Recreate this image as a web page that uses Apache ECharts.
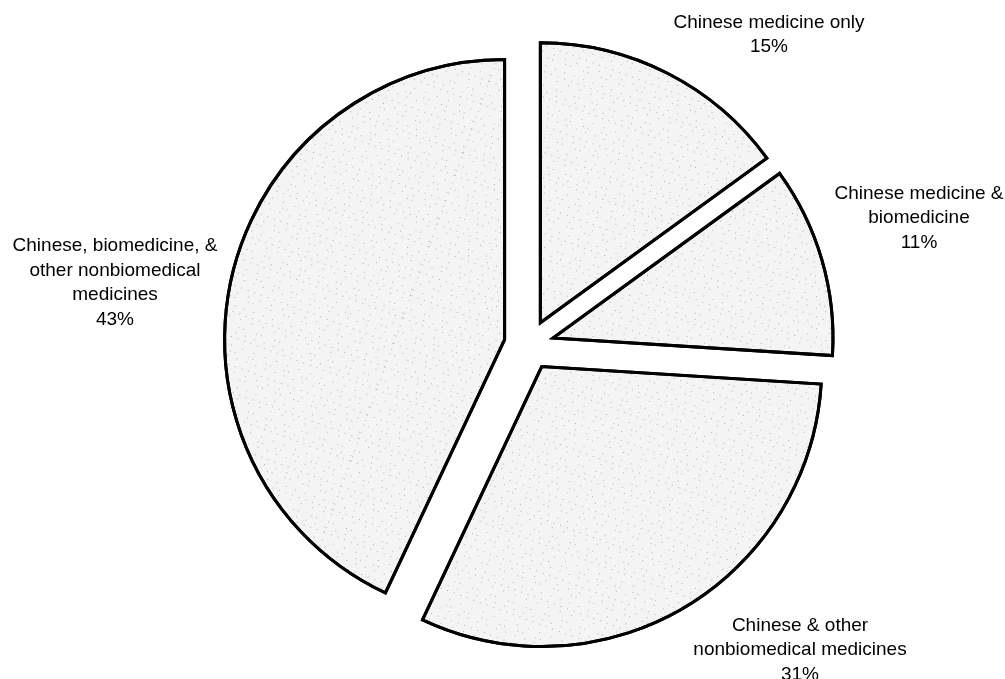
<!DOCTYPE html>
<html>
<head>
<meta charset="utf-8">
<title>Medicine use</title>
<script src="https://cdn.jsdelivr.net/npm/echarts@6/dist/echarts.min.js"></script>
<style>
  html, body { margin: 0; padding: 0; background: #fff; }
  #chart { width: 1005px; height: 679px; }
</style>
</head>
<body>
<div id="chart"></div>
<script>
// data
const categories = [
    'Chinese medicine only',
    'Chinese medicine &\nbiomedicine',
    'Chinese & other\nnonbiomedical medicines',
    'Chinese, biomedicine, &\nother nonbiomedical\nmedicines'
];
const shares = [15, 11, 31, 43];

// label block centres (pixels)
const labelPos = [[769, 35], [919, 218], [800, 650], [115, 283]];

const sliceStyle = {
    color: '#f4f4f4',
    borderColor: '#000',
    borderWidth: 3,
    borderJoin: 'miter',
    decal: {
        symbol: 'rect',
        symbolSize: 1,
        color: 'rgba(90, 90, 90, 0.45)',
        dashArrayX: [[1, 6], [1, 11], [1, 4, 1, 13], [1, 9]],
        dashArrayY: [1, 4, 1, 7, 1, 5],
        rotation: 0.35
    }
};

const chart = echarts.init(document.getElementById('chart'));

// labels as plain text, built from the data arrays
const labels = categories.map((name, i) => ({
    type: 'text',
    x: labelPos[i][0],
    y: labelPos[i][1],
    silent: true,
    style: {
        text: name + '\n' + shares[i] + '%',
        font: '19px "Liberation Sans", Arial, sans-serif',
        lineHeight: 24.5,
        fill: '#000',
        align: 'center',
        verticalAlign: 'middle'
    }
}));

chart.setOption({
    animation: false,
    backgroundColor: '#fff',
    graphic: labels,
    series: [{
        type: 'pie',
        center: [529, 345],
        radius: 280,
        startAngle: 90,
        clockwise: true,
        selectedMode: 'multiple',
        selectedOffset: 25,
        silent: true,
        itemStyle: sliceStyle,
        select: { itemStyle: sliceStyle },
        emphasis: { disabled: true },
        label: { show: false },
        labelLine: { show: false },
        data: categories.map((name, i) => ({ name: name, value: shares[i], selected: true }))
    }]
});
</script>
</body>
</html>
